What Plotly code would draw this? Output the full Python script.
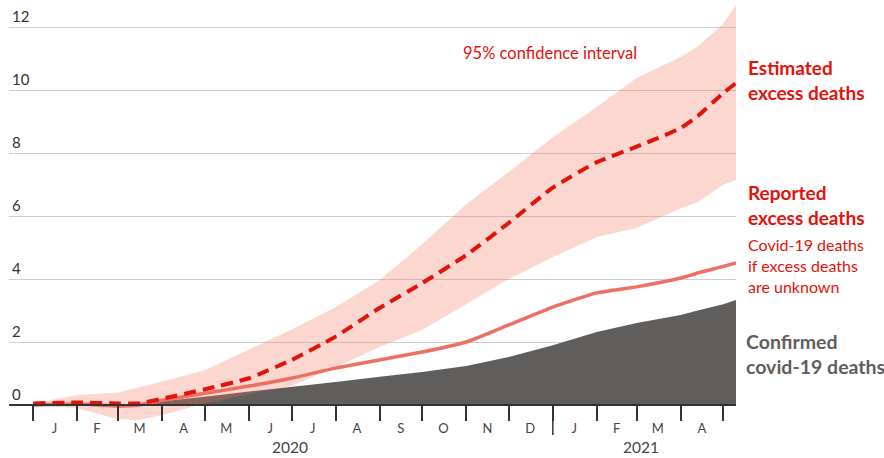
import plotly.graph_objects as go

# ---- data (values in the chart's units) ----
dates = ["2020-01-01", "2020-02-01", "2020-03-01", "2020-03-15", "2020-04-01",
         "2020-05-01", "2020-06-01", "2020-07-01", "2020-08-01", "2020-09-01",
         "2020-10-01", "2020-11-01", "2020-12-01", "2021-01-01", "2021-02-01",
         "2021-03-01", "2021-04-01", "2021-04-13", "2021-05-01", "2021-05-10"]
estimated = [0.05, 0.08, 0.05, 0.05, 0.2, 0.5, 0.85, 1.43, 2.17, 3.08,
             3.87, 4.76, 5.78, 6.9, 7.71, 8.2, 8.79, 9.17, 9.9, 10.22]
ci_upper = [0.05, 0.32, 0.4, 0.55, 0.75, 1.1, 1.75, 2.4, 3.1, 3.97,
            5.1, 6.37, 7.4, 8.5, 9.46, 10.38, 11.05, 11.37, 12.1, 12.7]
ci_lower = [0.0, -0.1, -0.45, -0.48, -0.32, 0.05, 0.35, 0.6, 1.2, 1.84,
            2.38, 3.2, 4.0, 4.7, 5.33, 5.62, 6.25, 6.44, 7.0, 7.14]
reported = [0.0, 0.03, -0.03, 0.0, 0.15, 0.37, 0.6, 0.85, 1.17, 1.43,
            1.68, 2.0, 2.54, 3.11, 3.56, 3.75, 4.03, 4.19, 4.4, 4.51]
confirmed = [0.0, 0.0, 0.0, 0.02, 0.12, 0.26, 0.43, 0.57, 0.73, 0.9,
             1.05, 1.24, 1.52, 1.90, 2.32, 2.60, 2.86, 3.0, 3.2, 3.33]

month_mid = ["2020-01-16", "2020-02-15", "2020-03-16", "2020-04-16", "2020-05-16",
             "2020-06-16", "2020-07-16", "2020-08-16", "2020-09-16", "2020-10-16",
             "2020-11-16", "2020-12-16", "2021-01-16", "2021-02-15", "2021-03-16",
             "2021-04-16"]
month_letters = ["J", "F", "M", "A", "M", "J", "J", "A", "S", "O", "N", "D",
                 "J", "F", "M", "A"]
month_starts = ["2020-01-01", "2020-02-01", "2020-03-01", "2020-04-01", "2020-05-01",
                "2020-06-01", "2020-07-01", "2020-08-01", "2020-09-01", "2020-10-01",
                "2020-11-01", "2020-12-01", "2021-01-01", "2021-02-01", "2021-03-01",
                "2021-04-01", "2021-05-01"]
year_labels = ["2020", "2021"]
year_pos = ["2020-06-30", "2021-03-04"]
y_ticks = [0, 2, 4, 6, 8, 10, 12]

RED = "#E3120B"
SALMON = "#EE6F63"
GREY = "#5F5E5C"
FONT = "Lato"

fig = go.Figure()

fig.add_trace(go.Scatter(x=dates, y=confirmed, mode="lines", line=dict(width=0, color=GREY),
                         fill="tozeroy", fillcolor=GREY, hoverinfo="skip"))
fig.add_trace(go.Scatter(x=dates, y=ci_lower, mode="lines", line=dict(width=0),
                         hoverinfo="skip"))
fig.add_trace(go.Scatter(x=dates, y=ci_upper, mode="lines", line=dict(width=0),
                         fill="tonexty", fillcolor="rgba(240,110,85,0.28)", hoverinfo="skip"))
fig.add_trace(go.Scatter(x=dates, y=reported, mode="lines",
                         line=dict(width=3.5, color=SALMON, shape="spline", smoothing=0.5)))
fig.add_trace(go.Scatter(x=dates, y=estimated, mode="lines",
                         line=dict(width=4, color=RED, dash="12px,7px", shape="spline", smoothing=0.5)))

# plot area: x 9..736 px, y 0..425 px ; value 0 at 405 px
y_lo, y_hi = -20 / 31.5, 405 / 31.5
plot_h = 425.0

def py(px):
    return (plot_h - px) / plot_h

fig.update_layout(
    width=884, height=458,
    margin=dict(l=9, r=148, t=0, b=33),
    paper_bgcolor="white", plot_bgcolor="white",
    showlegend=False,
    font=dict(family=FONT, color="#333333"),
    xaxis=dict(
        type="date",
        range=["2019-12-15", "2021-05-10"],
        anchor="free", position=py(405),
        showline=True, linecolor="#333333", linewidth=1.5,
        showgrid=False, zeroline=False,
        tickmode="array", tickvals=month_mid, ticktext=month_letters,
        ticks="", ticklabelstandoff=12,
        tickfont=dict(size=13, color="#444444", family=FONT),
        minor=dict(tickmode="array", tickvals=month_starts, ticks="outside",
                   ticklen=15, tickwidth=1.5, tickcolor="#333333", showgrid=False),
    ),
    yaxis=dict(
        range=[y_lo, y_hi],
        tickmode="array", tickvals=y_ticks,
        ticklabelposition="inside top",
        tickfont=dict(size=15, color="#333333", family=FONT),
        showgrid=True, gridcolor="#CFCFCF", gridwidth=1,
        zeroline=False, showline=False, ticks="",
    ),
)

# longer tick at the year boundary
fig.add_shape(type="line", xref="x", yref="paper", x0="2021-01-01", x1="2021-01-01",
              y0=py(405), y1=py(435), line=dict(color="#333333", width=1.5))

for lab, pos in zip(year_labels, year_pos):
    fig.add_annotation(x=pos, xref="x", y=py(447), yref="paper", text=lab,
                       showarrow=False, font=dict(size=15.5, color="#444444", family=FONT),
                       xanchor="center", yanchor="middle")

def val(px):
    return (405 - px) / 31.5

fig.add_annotation(x="2020-12-30", xref="x", y=val(53), yref="y",
                   text="95% confidence interval", showarrow=False,
                   font=dict(size=16.5, color=RED, family=FONT),
                   xanchor="center", yanchor="middle")

xr = (746 - 9) / 727
fig.add_annotation(x=xr, xref="paper", y=val(80), yref="y", align="left",
                   text="<b>Estimated<br>excess deaths</b>", showarrow=False,
                   font=dict(size=19, color=RED, family=FONT),
                   xanchor="left", yanchor="middle")
fig.add_annotation(x=xr, xref="paper", y=val(205), yref="y", align="left",
                   text="<b>Reported<br>excess deaths</b>", showarrow=False,
                   font=dict(size=19, color=RED, family=FONT),
                   xanchor="left", yanchor="middle")
fig.add_annotation(x=xr, xref="paper", y=val(265), yref="y", align="left",
                   text="Covid-19 deaths<br>if excess deaths<br>are unknown", showarrow=False,
                   font=dict(size=16, color=RED, family=FONT),
                   xanchor="left", yanchor="middle")
fig.add_annotation(x=(744 - 9) / 727, xref="paper", y=val(354), yref="y", align="left",
                   text="<b>Confirmed<br>covid-19 deaths</b>", showarrow=False,
                   font=dict(size=19.5, color=GREY, family=FONT),
                   xanchor="left", yanchor="middle")

fig.write_html("out.html", config={"displayModeBar": False},
               post_script="document.body.style.margin='0';")
